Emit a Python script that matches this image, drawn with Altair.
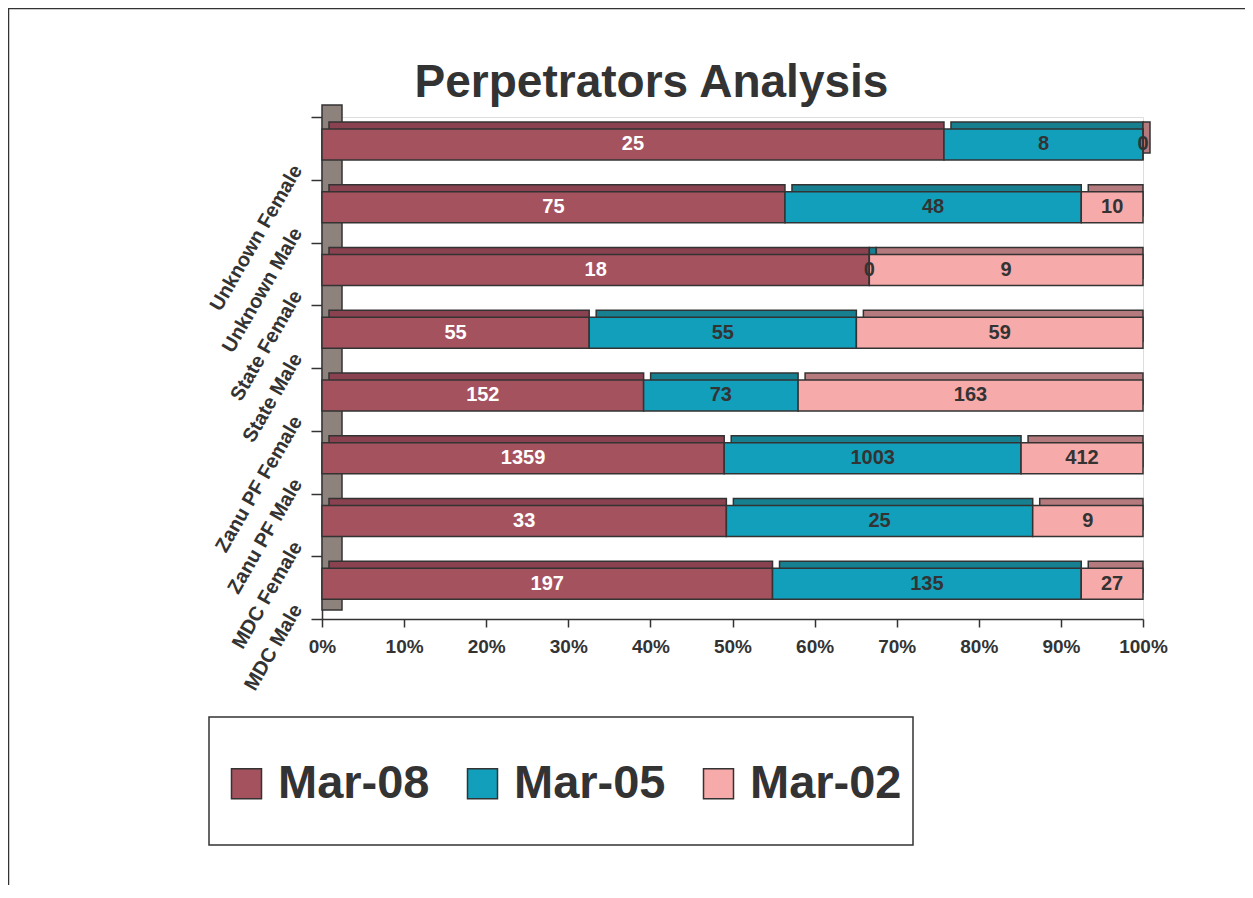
import altair as alt
import pandas as pd

categories = ["Unknown Female", "Unknown Male", "State Female", "State Male",
              "Zanu PF Female", "Zanu PF Male", "MDC Female", "MDC Male"]
series_names = ["Mar-08", "Mar-05", "Mar-02"]
mar08 = [25, 75, 18, 55, 152, 1359, 33, 197]
mar05 = [8, 48, 0, 55, 73, 1003, 25, 135]
mar02 = [0, 10, 9, 59, 163, 412, 9, 27]
x_ticks = [0, 0.1, 0.2, 0.3, 0.4, 0.5, 0.6, 0.7, 0.8, 0.9, 1.0]

front_colors = ["#A5525F", "#129FBB", "#F7AAAA"]
back_colors = ["#8A4250", "#167F90", "#B57A7E"]

SANS = "Liberation Sans, Arial, sans-serif"
INK = "#333333"

rows = []
for i, c in enumerate(categories):
    for j, (s, vals) in enumerate(zip(series_names, [mar08, mar05, mar02])):
        rows.append({"cat": c, "series": s, "ord": j, "value": vals[i]})
df = pd.DataFrame(rows)

base = (
    alt.Chart(df)
    .transform_joinaggregate(total="sum(value)", groupby=["cat"])
    .transform_calculate(pct="datum.value / datum.total")
    .transform_window(cum="sum(pct)", groupby=["cat"],
                      sort=[alt.SortField("ord")], frame=[None, 0])
    .transform_calculate(start="datum.cum - datum.pct",
                         mid="datum.cum - datum.pct / 2")
)

y_enc = alt.Y(
    "cat:N", sort=categories, title=None,
    scale=alt.Scale(paddingInner=0, paddingOuter=0),
    axis=alt.Axis(labelAngle=300, labelAlign="right", labelBaseline="middle",
                  labelOffset=18, labelPadding=14, labelFont=SANS,
                  labelFontSize=20, labelFontWeight="bold", labelColor=INK,
                  labelLimit=400, tickBand="extent", tickSize=11,
                  tickColor=INK, tickWidth=1.5, domainColor=INK,
                  domainWidth=1.5),
)
x_enc = alt.X(
    "start:Q", title=None,
    scale=alt.Scale(domain=[0, 1], nice=False),
    axis=alt.Axis(format="%", values=x_ticks, labelFont=SANS,
                  labelFontSize=19, labelFontWeight="bold", labelColor=INK,
                  labelFlush=False, labelPadding=10, tickSize=8, tickColor=INK,
                  tickWidth=1.5, domainColor=INK, domainWidth=1.5, grid=False),
)

wall = alt.Chart(pd.DataFrame({"k": [0]})).mark_rect(
    fill="#8E827D", stroke=INK, strokeWidth=1.5
).encode(x=alt.value(0), x2=alt.value(20), y=alt.value(-12), y2=alt.value(493))

back = base.mark_bar(size=31, xOffset=7, yOffset=-11, stroke=INK, strokeWidth=1.5).encode(
    x=x_enc, x2="cum:Q", y=y_enc,
    color=alt.Color("series:N", scale=alt.Scale(domain=series_names, range=back_colors),
                    legend=None),
)

front = base.mark_bar(size=31, yOffset=-4, stroke=INK, strokeWidth=1.5).encode(
    x=x_enc, x2="cum:Q", y=y_enc,
    color=alt.Color(
        "series:N",
        scale=alt.Scale(domain=series_names, range=front_colors),
        legend=alt.Legend(
            orient="none", legendX=-99, legendY=643, direction="horizontal",
            title=None, symbolType="square", symbolSize=900,
            symbolStrokeColor=INK, symbolStrokeWidth=1.5, symbolOpacity=1,
            labelFont=SANS, labelFontSize=47, labelFontWeight="bold",
            labelColor=INK, labelOffset=8, columnPadding=29, labelLimit=400,
        ),
    ),
)

labels = base.mark_text(dy=-4, font=SANS, fontSize=20, fontWeight="bold").encode(
    x=alt.X("mid:Q"), y=alt.Y("cat:N", sort=categories),
    text="value:Q",
    color=alt.condition("datum.series == 'Mar-08'", alt.value("white"), alt.value(INK)),
)

deco = pd.DataFrame({"k": [0]})
legend_box = alt.Chart(deco).mark_rect(fill=None, stroke=INK, strokeWidth=1.5).encode(
    x=alt.value(-113), x2=alt.value(591), y=alt.value(600), y2=alt.value(728))
frame_top = alt.Chart(deco).mark_rule(stroke=INK, strokeWidth=2.5).encode(
    x=alt.value(-314), x2=alt.value(931), y=alt.value(-109))
frame_left = alt.Chart(deco).mark_rule(stroke=INK, strokeWidth=2.5).encode(
    x=alt.value(-314), y=alt.value(-109), y2=alt.value(770))

chart = (
    alt.layer(wall, back, front, labels, legend_box, frame_top, frame_left)
    .resolve_scale(color="independent")
    .properties(
        width=821, height=502,
        title=alt.TitleParams("Perpetrators Analysis", font=SANS, fontSize=46,
                              fontWeight="bold", color=INK, anchor="middle",
                              frame="group", dx=-81, dy=104),
        autosize=alt.AutoSizeParams(type="none"),
        padding={"left": 314, "top": 109, "right": 102, "bottom": 266},
    )
    .configure_view(stroke=None)
    .configure(background="white")
)

chart.save("out.html", embed_options={"renderer": "svg", "actions": False})
